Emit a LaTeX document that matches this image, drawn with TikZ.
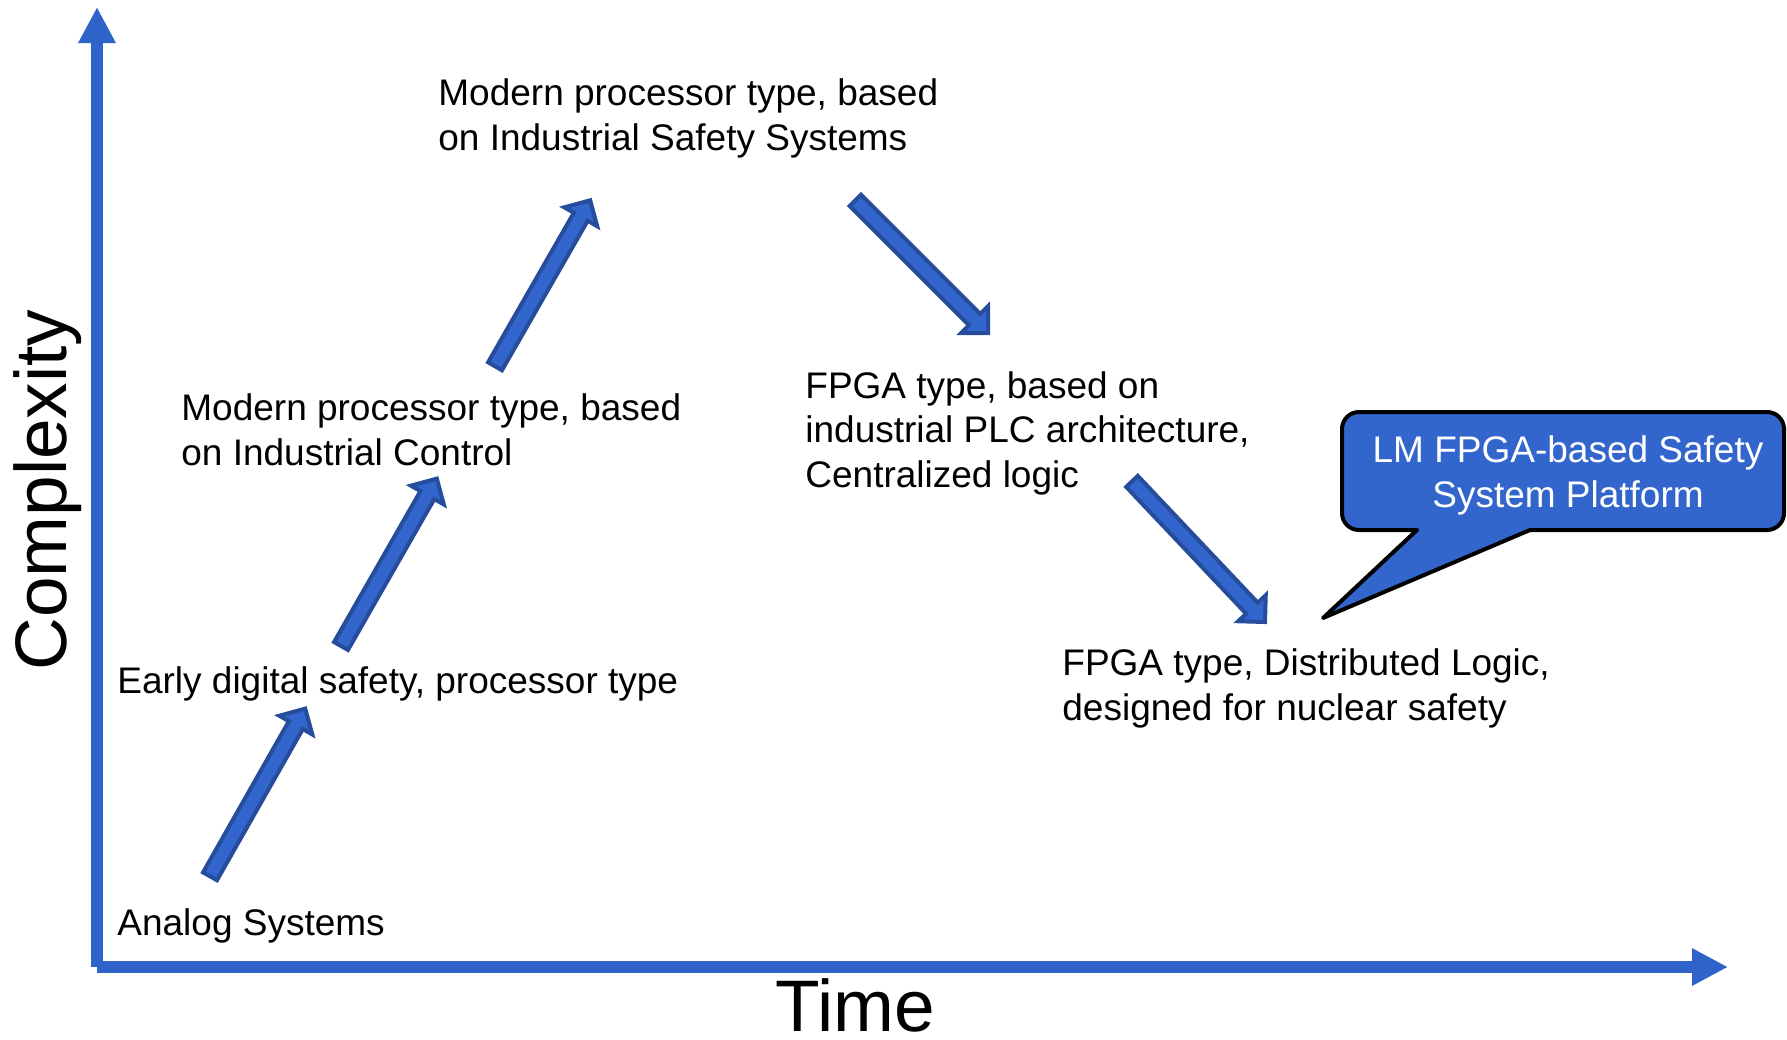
\documentclass[tikz,border=0pt]{standalone}
\usepackage{fontspec}
\setmainfont{Liberation Sans}
\usetikzlibrary{calc,arrows.meta}

\definecolor{axisblue}{RGB}{47,99,201}
\definecolor{arrowfill}{RGB}{51,102,204}
\definecolor{arrowedge}{RGB}{38,76,156}
\definecolor{calloutfill}{RGB}{51,102,204}

% thick block arrow from #1 (tail) to #2 (tip)
\newcommand\blockarrow[2]{%
  \coordinate (ah) at ($(#2)!9.5pt!(#1)$);
  \filldraw[barrow]
    ($(#1)!4pt!90:(#2)$) -- ($(ah)!4pt!90:(#2)$) -- ($(ah)!9.5pt!90:(#2)$)
    -- (#2)
    -- ($(ah)!9.5pt!-90:(#2)$) -- ($(ah)!4pt!-90:(#2)$) -- ($(#1)!4pt!-90:(#2)$) -- cycle;}

\begin{document}
\begin{tikzpicture}[x=0.5pt,y=-0.5pt,
  label/.style={anchor=base west,inner sep=0pt,align=left,
    font=\fontsize{18.5pt}{22.25pt}\selectfont},
  axislabel/.style={inner sep=0pt,anchor=base,font=\fontsize{36.5pt}{40pt}\selectfont},
  axis/.style={draw=axisblue,line width=6pt,line cap=butt,
    -{Triangle[length=18pt,width=17.5pt]}},
  barrow/.style={fill=arrowfill,draw=arrowedge,line width=2pt,line join=miter},
  callout/.style={fill=calloutfill,draw=black,line width=2pt,line join=round}]
\useasboundingbox (0,0) rectangle (1787,1039);

% axes
\coordinate (origin) at (97,967);
\coordinate (ytop) at (97,7);
\coordinate (xend) at (1728,967);
\draw[axis] (origin) -- (ytop);
\draw[axis] (origin) -- (xend);
\node[axislabel,rotate=90] (ylab) at (66.7,490) {Complexity};
\node[axislabel] (xlab) at (855,1031) {Time};

% stages (multi-line nodes sit on the baseline of their last line)
\node[label] (analog) at (117,935) {Analog Systems};
\node[label] (early) at (117,693) {Early digital safety, processor type};
\node[label] (ctrl) at (181,465) {Modern processor type, based\\on Industrial Control};
\node[label] (iss) at (438,150) {Modern processor type, based\\on Industrial Safety Systems};
\node[label] (plc) at (805,487) {FPGA type, based on\\industrial PLC architecture,\\Centralized logic};
\node[label] (dist) at (1062,720) {FPGA type, Distributed Logic,\\designed for nuclear safety};

% arrow ends
\coordinate (a1s) at (210,876.3);   \coordinate (a1e) at (305.2,708.6);
\coordinate (a2s) at (341,646);     \coordinate (a2e) at (436.8,478.6);
\coordinate (a3s) at (495,366.3);   \coordinate (a3e) at (590.2,200.3);
\coordinate (a4s) at (855.4,200.4); \coordinate (a4e) at (988,333);
\coordinate (a5s) at (1132,481.4);  \coordinate (a5e) at (1265,622);
\blockarrow{a1s}{a1e}
\blockarrow{a2s}{a2e}
\blockarrow{a3s}{a3e}
\blockarrow{a4s}{a4e}
\blockarrow{a5s}{a5e}

% speech bubble
\draw[callout] (1323,618) -- (1417,530) -- (1359,530)
  .. controls (1349.6,530) and (1342,522.4) .. (1342,513)
  -- (1342,429) .. controls (1342,419.6) and (1349.6,412) .. (1359,412)
  -- (1767,412) .. controls (1776.4,412) and (1784,419.6) .. (1784,429)
  -- (1784,513) .. controls (1784,522.4) and (1776.4,530) .. (1767,530)
  -- (1530,530) -- cycle;
\node[label,anchor=base,align=center,text=white] (lm) at (1568,507)
  {LM FPGA-based Safety\\System Platform};
\end{tikzpicture}
\end{document}
